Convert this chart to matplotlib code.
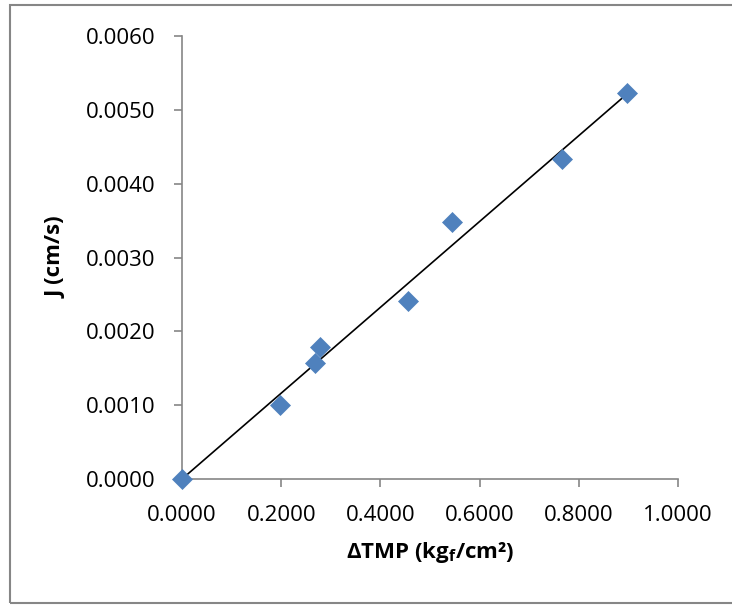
import matplotlib
matplotlib.use("Agg")
import matplotlib.pyplot as plt
import numpy as np
from matplotlib.patches import Rectangle
from matplotlib.ticker import FormatStrFormatter

plt.rcParams['font.family'] = ['Open Sans', 'DejaVu Sans']
plt.rcParams['mathtext.fontset'] = 'custom'
plt.rcParams['mathtext.rm'] = 'Open Sans:bold'
plt.rcParams['mathtext.bf'] = 'Open Sans:bold'

dtmp = [0.0, 0.198, 0.268, 0.278, 0.456, 0.544, 0.766, 0.898]
flux = [0.0, 0.00100, 0.00157, 0.00179, 0.00241, 0.00348, 0.00433, 0.00523]
x_ticks = [0.0, 0.2, 0.4, 0.6, 0.8, 1.0]
y_ticks = [0.0, 0.001, 0.002, 0.003, 0.004, 0.005, 0.006]

x = np.array(dtmp)
y = np.array(flux)
slope = np.sum(x * y) / np.sum(x * x)  # linear trendline through origin

fig = plt.figure(figsize=(7.32, 6.05), dpi=100)
fig.patches.append(Rectangle((9.5 / 732, 2 / 605), 2.0, 1 - 7 / 605,
                             transform=fig.transFigure, fill=False,
                             edgecolor='#868686', linewidth=1.5))
ax = fig.add_axes([182 / 732, 1 - 479 / 605, (678 - 182) / 732, (479 - 36) / 605])

xl = np.array([0.0, x.max()])
ax.plot(xl, slope * xl, color='black', linewidth=1.2, zorder=2)
ax.plot(x, y, linestyle='none', marker='D', markersize=10.5,
        color='#4F81BD', markeredgecolor='#4F81BD', markeredgewidth=0.5,
        zorder=3, clip_on=False)

ax.set_xlim(0, 1.0)
ax.set_ylim(0, 0.006)
ax.set_xticks(x_ticks)
ax.set_yticks(y_ticks)
ax.xaxis.set_major_formatter(FormatStrFormatter('%.4f'))
ax.yaxis.set_major_formatter(FormatStrFormatter('%.4f'))

for s in ['top', 'right']:
    ax.spines[s].set_visible(False)
for s in ['left', 'bottom']:
    ax.spines[s].set_color('#868686')
    ax.spines[s].set_linewidth(1.2)
ax.tick_params(axis='both', direction='out', length=6, width=1.2,
               color='#868686', labelsize=16, labelcolor='black')
ax.tick_params(axis='y', pad=13)
ax.tick_params(axis='x', pad=13)

ax.set_ylabel('J (cm/s)', fontsize=16, fontweight='bold', labelpad=14)
ax.set_xlabel(r'ΔTMP (kg$_\mathregular{f}$/cm²)', fontsize=16,
              fontweight='bold', labelpad=10)

fig.savefig('out.png', dpi=100)
